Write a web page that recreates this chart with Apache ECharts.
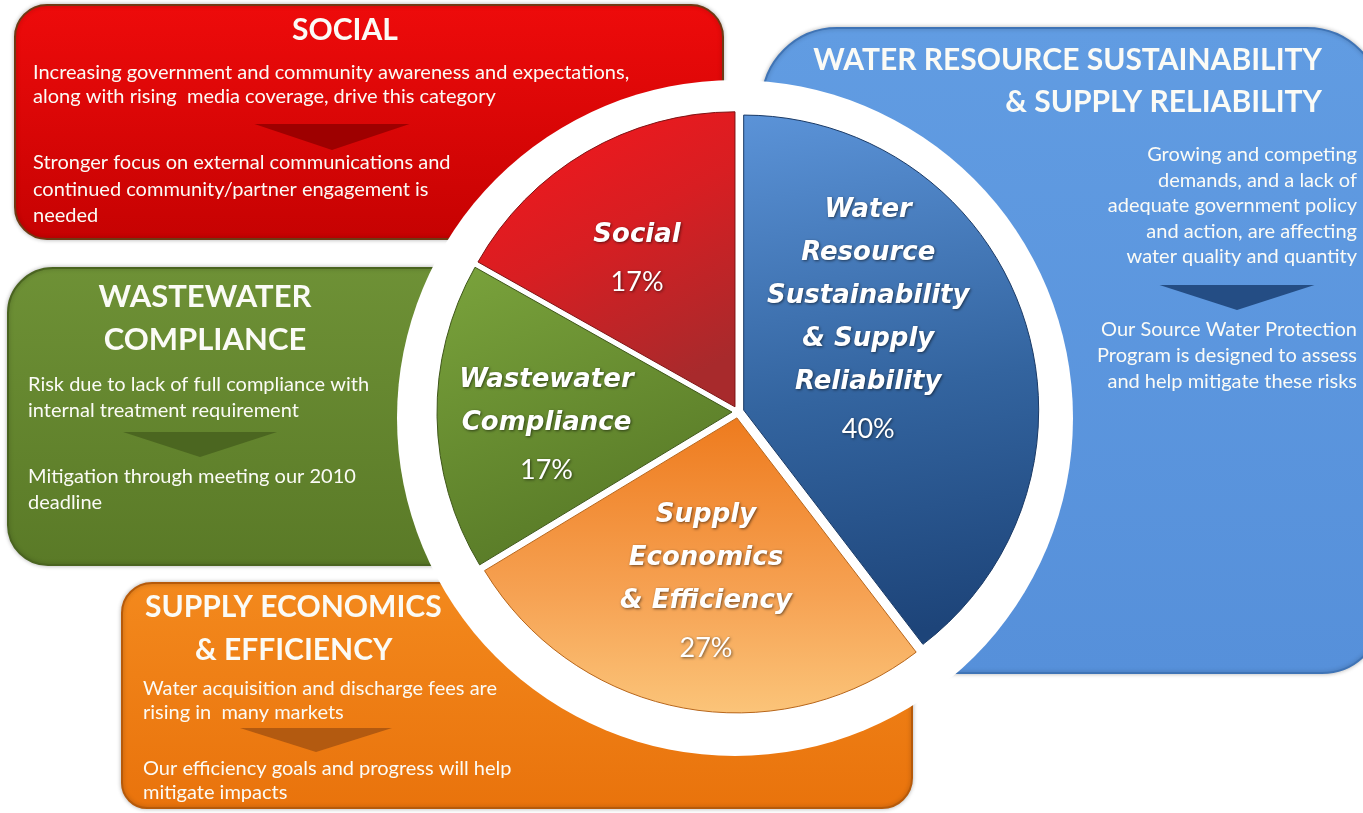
<!DOCTYPE html>
<html>
<head>
<meta charset="utf-8">
<title>Risk categories</title>
<script src="https://cdn.jsdelivr.net/npm/echarts@6/dist/echarts.min.js"></script>
<style>
  html, body { margin: 0; padding: 0; background: #fff; }
  #chart { width: 1363px; height: 813px; }
</style>
</head>
<body>
<div id="chart"></div>
<script>
// slices, clockwise from 12 o'clock
const categories = [
  'Water Resource Sustainability & Supply Reliability',
  'Supply Economics & Efficiency',
  'Wastewater Compliance',
  'Social'
];
const sliceLines = [
  ['Water', 'Resource', 'Sustainability', '& Supply', 'Reliability'],
  ['Supply', 'Economics', '& Efficiency'],
  ['Wastewater', 'Compliance'],
  ['Social']
];
const shares = [40, 27, 17, 17];

// text of the four panels
const socialTitle = ['SOCIAL'];
const socialRisk = ['Increasing government and community awareness and expectations,', 'along with rising  media coverage, drive this category'];
const socialAction = ['Stronger focus on external communications and', 'continued community/partner engagement is', 'needed'];

const waterTitle = ['WATER RESOURCE SUSTAINABILITY', '& SUPPLY RELIABILITY'];
const waterRisk = ['Growing and competing', 'demands, and a lack of', 'adequate government policy', 'and action, are affecting', 'water quality and quantity'];
const waterAction = ['Our Source Water Protection', 'Program is designed to assess', 'and help mitigate these risks'];

const wasteTitle = ['WASTEWATER', 'COMPLIANCE'];
const wasteRisk = ['Risk due to lack of full compliance with', 'internal treatment requirement'];
const wasteAction = ['Mitigation through meeting our 2010', 'deadline'];

const supplyTitle = ['SUPPLY ECONOMICS', '& EFFICIENCY'];
const supplyRisk = ['Water acquisition and discharge fees are', 'rising in  many markets'];
const supplyAction = ['Our efficiency goals and progress will help', 'mitigate impacts'];

const chart = echarts.init(document.getElementById('chart'));
const G = echarts.graphic;

function vgrad(top, bottom) {
  return new G.LinearGradient(0, 0, 0, 1, [{ offset: 0, color: top }, { offset: 1, color: bottom }]);
}

function panel(x, y, w, h, r, top, bottom, stroke) {
  return {
    type: 'rect',
    shape: { x: x, y: y, width: w, height: h, r: r },
    style: { fill: vgrad(top, bottom), stroke: stroke, lineWidth: 2, shadowBlur: 4, shadowColor: 'rgba(0,0,0,0.25)' }
  };
}

function lines(list, x, y0, step, align, size, weight) {
  return list.map(function (t, i) {
    return {
      type: 'text',
      x: x,
      y: y0 + i * step,
      style: {
        text: t,
        fill: '#fbfbf6',
        font: (weight || 'normal') + ' ' + size + 'px Lato, sans-serif',
        align: align, textAlign: align,
        verticalAlign: 'middle', textVerticalAlign: 'middle'
      }
    };
  });
}

function arrow(cx, top, w, h, color) {
  return {
    type: 'polygon',
    shape: { points: [[cx - w / 2, top], [cx + w / 2, top], [cx, top + h]] },
    style: { fill: color }
  };
}

const bodySize = 20;
const titleSize = 30;

const graphics = [].concat(
  // blue panel
  [panel(762, 28, 620, 645, [75, 75, 60, 10], '#619ce2', '#5690da', '#3f74b6')],
  lines(waterTitle, 1322, 60, 42, 'right', titleSize, 'bold'),
  lines(waterRisk, 1357, 155, 25.5, 'right', bodySize),
  [arrow(1237, 285, 155, 25, '#244d84')],
  lines(waterAction, 1357, 330, 26, 'right', bodySize),
  // red panel
  [panel(15, 5, 708, 234, 32, '#ee0b0b', '#c60202', '#6e3a14')],
  lines(socialTitle, 345, 30, 0, 'center', titleSize, 'bold'),
  lines(socialRisk, 33, 73, 24, 'left', bodySize),
  [arrow(332, 124, 155, 26, '#9e0000')],
  lines(socialAction, 33, 163, 26.5, 'left', bodySize),
  // green panel
  [panel(8, 268, 450, 297, [45, 0, 0, 40], '#6e9136', '#5a7a27', '#4a6420')],
  lines(wasteTitle, 205, 297, 43, 'center', titleSize + 1, 'bold'),
  lines(wasteRisk, 28, 385, 26, 'left', bodySize),
  [arrow(200, 432, 154, 25, '#4b6620')],
  lines(wasteAction, 28, 477, 26, 'left', bodySize),
  // orange panel
  [panel(122, 583, 790, 225, [30, 30, 30, 25], '#f3891d', '#e9730c', '#b65a0a')],
  lines(supplyTitle.slice(0, 1), 145, 607, 0, 'left', titleSize, 'bold'),
  lines(supplyTitle.slice(1), 195, 650, 0, 'left', titleSize, 'bold'),
  lines(supplyRisk, 143, 689, 24, 'left', bodySize),
  [arrow(316, 728, 152, 24, '#b35a10')],
  lines(supplyAction, 143, 769, 24, 'left', bodySize),
  // white disk behind the pie
  [{ type: 'circle', shape: { cx: 735, cy: 418, r: 338 }, style: { fill: '#ffffff' } }]
);

const sliceStyles = [
  { color: new G.LinearGradient(0, 0, 0.3, 1, [{ offset: 0, color: '#5b93d8' }, { offset: 0.55, color: '#33649f' }, { offset: 1, color: '#1d4479' }]), borderColor: '#1a3a66', borderWidth: 1 },
  { color: new G.LinearGradient(0, 0, 0, 1, [{ offset: 0, color: '#ee7b1e' }, { offset: 0.6, color: '#f6a253' }, { offset: 1, color: '#fbc479' }]), borderColor: '#b8661a', borderWidth: 1 },
  { color: new G.LinearGradient(0, 0, 0.4, 1, [{ offset: 0, color: '#7aa33c' }, { offset: 1, color: '#587a27' }]), borderColor: '#3f5719', borderWidth: 1 },
  { color: new G.LinearGradient(0, 0, 0.6, 1, [{ offset: 0, color: '#f8161c' }, { offset: 0.5, color: '#d81e22' }, { offset: 1, color: '#a82a2c' }]), borderColor: '#7e1414', borderWidth: 1 }
];
// nudges of the inside labels away from the default mid-radius spot
const labelShifts = [[-18, -40], [-3, 18], [-35, 13], [-22, -16]];

const shadowText = { color: '#ffffff', textShadowColor: 'rgba(0,0,0,0.55)', textShadowBlur: 3, textShadowOffsetX: 1, textShadowOffsetY: 1 };

chart.setOption({
  animation: false,
  backgroundColor: '#ffffff',
  graphic: { elements: graphics },
  series: [{
    type: 'pie',
    z: 5,
    center: [738, 412],
    radius: 295,
    startAngle: 90,
    clockwise: true,
    silent: true,
    selectedMode: 'multiple',
    selectedOffset: 6,
    labelLine: { show: false },
    label: {
      show: true,
      position: 'inside',
      formatter: function (p) {
        return sliceLines[p.dataIndex].map(function (s) { return '{n|' + s + '}'; }).join('\n') + '\n{p|' + p.value + '%}';
      },
      rich: {
        n: Object.assign({ fontFamily: 'DejaVu Sans', fontStyle: 'italic', fontWeight: 'bold', fontSize: 26, lineHeight: 43 }, shadowText),
        p: Object.assign({ fontFamily: 'Lato', fontSize: 27, lineHeight: 52 }, shadowText)
      }
    },
    labelLayout: function (p) {
      const s = labelShifts[p.dataIndex];
      return { dx: s[0], dy: s[1] };
    },
    data: shares.map(function (v, i) {
      return {
        name: categories[i],
        value: v,
        selected: true,
        itemStyle: sliceStyles[i],
        select: { itemStyle: sliceStyles[i] }
      };
    })
  }]
});
</script>
</body>
</html>
